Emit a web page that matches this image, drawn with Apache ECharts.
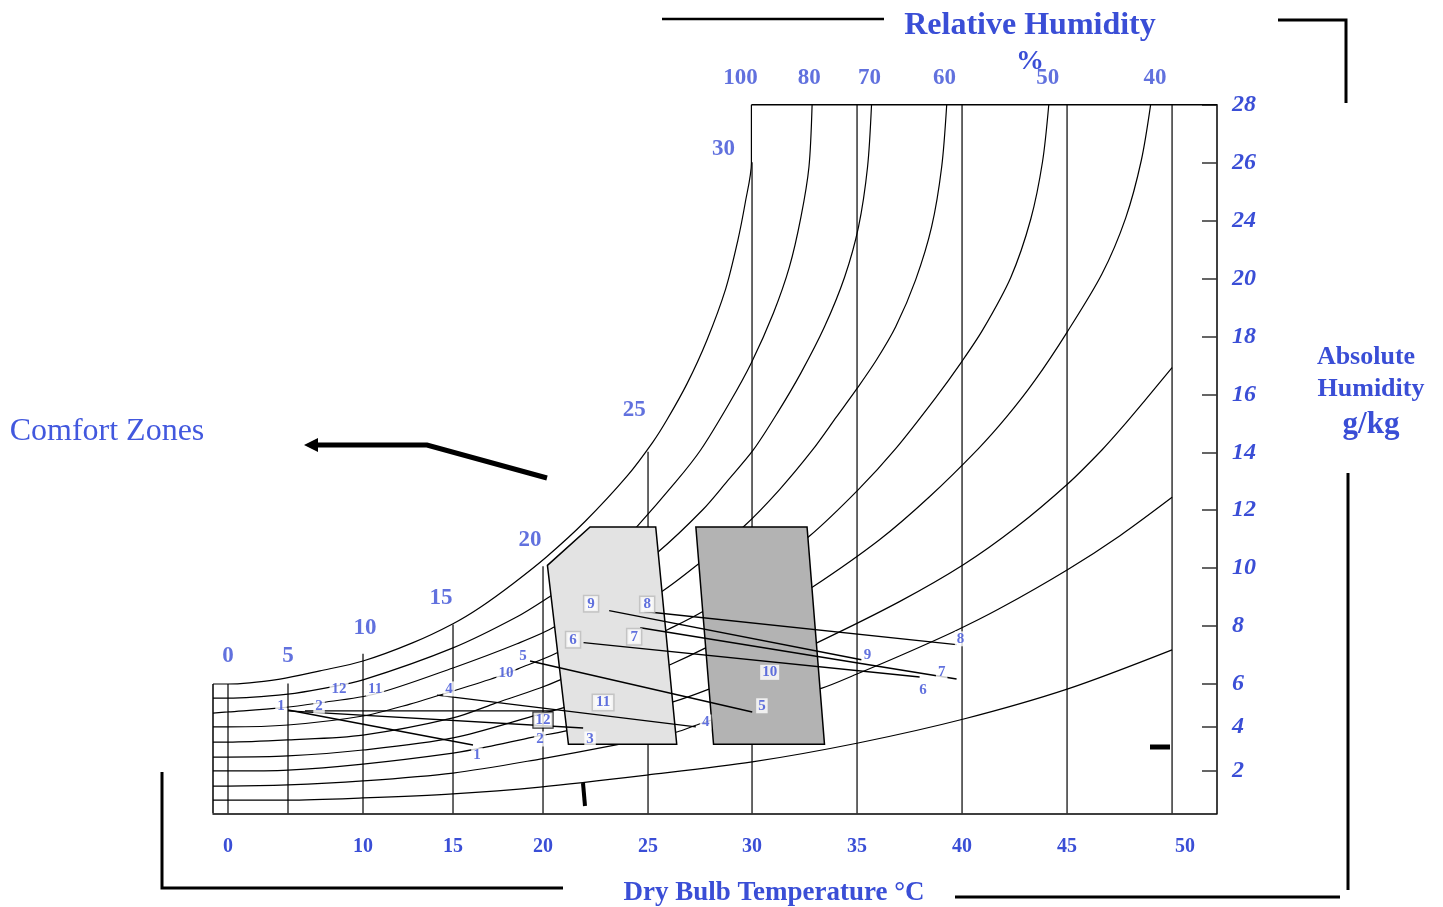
<!DOCTYPE html>
<html><head><meta charset="utf-8">
<script src="https://cdn.jsdelivr.net/npm/echarts@6/dist/echarts.min.js"></script>
<style>html,body{margin:0;padding:0;background:#fff}#c{width:1443px;height:907px}</style>
</head><body><div id="c"></div>
<script>
// ================= DATA =================
// dry bulb temperature grid lines (°C) and bottom axis labels
const tempTicks = [0,5,10,15,20,25,30,35,40,45,50];
const tempLabels = [0,10,15,20,25,30,35,40,45,50];
// height (g/kg) where each dry-bulb line meets the saturation curve
const dryBulbTop = [6.0,6.02,7.04,8.04,10.05,14.02,26.0,28,28,28,28];
// absolute humidity axis labels (g/kg)
const humidityTicks = [2,4,6,8,10,12,14,16,18,20,24,26,28];

// relative humidity curves, [°C, g/kg]
const rh100 = [[-1.25,6.0],[0,6.0],[4.33,6.17],[7.13,6.45],[10,6.79],[12.78,7.42],[15,8.07],[16.5,8.63],[18.33,9.45],[20.19,10.39],[22.0,11.60],[24.01,13.18],[25.24,14.36],[25.91,15.12],[26.87,16.36],[27.82,17.85],[28.73,19.64],[29.30,22.53],[29.68,24.64],[29.97,25.98],[29.97,28.0]];
const rh80 = [[-1.25,5.34],[0,5.34],[5.0,5.53],[7.47,5.81],[10,6.14],[15,7.24],[18.56,8.31],[20.33,9.01],[21.91,9.77],[23.67,10.84],[24.43,11.39],[26.34,12.98],[27.53,14.08],[28.92,15.71],[29.97,17.09],[31.02,18.81],[31.78,20.81],[32.33,24.13],[32.71,25.84],[32.86,28.0]];
const rh70 = [[-1.25,4.64],[0,4.69],[4.42,4.88],[7.07,5.11],[10.67,5.53],[15,6.55],[18.56,7.38],[20.57,7.97],[22.96,9.18],[25.44,10.52],[27.63,12.01],[28.82,13.01],[30.06,14.08],[31.21,15.36],[32.33,16.74],[33.45,18.33],[34.41,20.12],[35.07,23.57],[35.50,25.84],[35.69,28.0]];
const rh60 = [[-1.25,3.99],[0,3.99],[5,4.08],[10,4.50],[12.61,5.06],[15,5.67],[17.44,6.24],[18.61,6.52],[20.67,7.07],[23.20,8.14],[25.67,9.18],[27.39,10.11],[29.59,11.42],[31.30,12.70],[32.88,14.08],[34.02,15.22],[35.02,16.22],[35.93,17.19],[36.84,18.33],[37.79,19.96],[38.55,23.57],[39.03,25.84],[39.27,28.0]];
const rh50 = [[-1.25,3.30],[0,3.30],[5,3.40],[10,3.62],[15,4.41],[17.22,5.06],[19.83,5.81],[20.81,6.14],[23.43,7.0],[25.96,7.87],[27.63,8.49],[30.35,9.77],[32.71,11.08],[35.05,12.70],[36.83,14.12],[38.74,15.88],[39.98,17.12],[40.99,18.23],[42.32,20.09],[43.27,24.05],[43.83,26.01],[44.13,28.0]];
const rh40 = [[-1.25,2.62],[0,2.62],[5,2.67],[10,2.94],[15,3.49],[19.83,4.59],[20.95,4.88],[23.67,5.91],[26.06,6.66],[27.77,7.24],[30.35,8.21],[32.92,9.35],[36.07,10.97],[38.45,12.46],[40.77,14.12],[42.12,15.22],[43.46,16.47],[44.99,18.13],[46.66,20.32],[47.79,24.09],[48.54,26.08],[48.98,28.0]];
const rh30 = [[-1.25,1.99],[0,1.99],[5,2.03],[10,2.30],[15,2.80],[16.89,3.08],[19.44,3.53],[21.10,3.81],[23.67,4.55],[26.20,5.16],[27.96,5.77],[30.54,6.59],[33.11,7.42],[37.02,8.83],[40.08,10.11],[42.56,11.39],[45.04,12.91],[46.66,14.08],[47.60,14.84],[48.73,15.81],[50,16.92]];
const rh20 = [[-1.25,1.28],[0,1.28],[5,1.33],[10,1.52],[15,1.89],[19.83,2.53],[23.48,3.17],[26.39,3.76],[27.34,4.08],[30.35,5.02],[33.33,5.81],[35.05,6.36],[37.02,6.96],[39.65,7.81],[41.79,8.59],[45.04,9.94],[47.52,11.11],[50,12.44]];
const rh10 = [[-1.25,0.62],[0,0.62],[5,0.62],[10,0.72],[15,0.91],[19.83,1.23],[25.0,1.80],[30.01,2.40],[35.05,3.26],[40.08,4.36],[45.04,5.77],[50,7.17]];
const rhCurves = [rh100,rh80,rh70,rh60,rh50,rh40,rh30,rh20,rh10];

// RH labels at the top: [°C, text]
const rhTopLabels = [[29.44,'100'],[32.73,'80'],[35.59,'70'],[39.17,'60'],[44.08,'50'],[49.19,'40']];
// saturation temperature labels: [°C, g/kg, text]
const satLabels = [[0,6.97,'0'],[5,6.97,'5'],[10.11,7.93,'10'],[14.33,8.97,'15'],[19.28,10.97,'20'],[24.34,15.46,'25'],[28.63,26.46,'30']];

// comfort zones (polygons), [°C, g/kg]
const zoneWinter = [[20.21,10.08],[22.24,11.41],[25.37,11.41],[26.38,3.2],[21.21,3.2]];
const zoneSummer = [[27.30,11.41],[32.62,11.41],[33.45,3.2],[28.15,3.2]];

// monthly climate lines: [month, T1, H1, T2, H2]
const monthLines = [
  [1, 5.0,4.78, 16.11,3.17],
  [2, 6.13,4.74, 20.48,4.74],
  [3, 5.0,4.74, 21.91,3.94],
  [4, 14.11,5.48, 27.30,3.99],
  [5, 19.28,6.79, 30.01,4.69],
  [6, 21.93,7.42, 37.98,6.24],
  [7, 24.63,7.93, 39.74,6.17],
  [8, 24.82,8.49, 39.74,7.35],
  [9, 23.15,8.52, 35.21,6.83]
];
// month labels: [°C, g/kg, text]
const monthLabels = [
  [4.42,4.97,'1'],[7.07,4.97,'2'],[8.4,5.77,'12'],[10.67,5.77,'11'],[14.78,5.77,'4'],
  [17.94,6.38,'10'],[18.89,6.97,'5'],[16.33,2.71,'1'],[19.83,3.44,'2'],
  [20.0,4.31,'12'],[22.24,3.44,'3'],[27.77,4.22,'4'],[22.86,5.13,'11'],
  [22.29,8.76,'9'],[24.96,8.73,'8'],[21.43,7.52,'6'],[24.34,7.62,'7'],
  [30.84,6.40,'10'],[30.47,4.98,'5'],
  [35.5,6.98,'9'],[39.93,7.55,'8'],[39.03,6.40,'7'],[38.14,5.69,'6']
];
// frame style of each month label (p = plain, g = grey box, k = black box)
const monthLabelFrame = ['p','p','p','p','p','p','p','p','p','k','p','p','g','g','g','g','g','p','p','p','p','p','p'];

// ================= SCALE (printed chart's non-uniform grid) =================
const SX_T = [0,5,10,15,20,25,30,35,40,45,50];
const SX_U = [0,60,135,225,315,420,524,629,734,839,944];
const SY_H = [0,2,4,6,8,10,12,14,16,18,20,24,26,28];
const SY_V = [0,42.6,86.6,129.3,187.6,245.6,303.3,361,419,477,534.6,592.6,651,708.6];
function interp(v, xs, ys){
  const n = xs.length; let i;
  if (v <= xs[0]) i = 0; else if (v >= xs[n-1]) i = n-2;
  else { i = 0; while (!(v >= xs[i] && v <= xs[i+1])) i++; }
  return ys[i] + (v - xs[i]) * (ys[i+1] - ys[i]) / (xs[i+1] - xs[i]);
}
const tx = T => interp(T, SX_T, SX_U);
const hy = H => interp(H, SY_H, SY_V);
const pt = p => [tx(p[0]), hy(p[1])];
const T_MIN = -1.25, T_MAX = 52.14;

const BLUE = '#3a4ed6';
const SERIF = '"Liberation Serif","Times New Roman",serif';

const chart = echarts.init(document.getElementById('c'), null, {renderer:'canvas'});

const series = [];
// dry bulb verticals
tempTicks.forEach((T,i) => {
  series.push({type:'line', silent:true, symbol:'none', z:1,
    data:[pt([T,0]), pt([T,dryBulbTop[i]])],
    lineStyle:{color:'#000', width:1.2}});
});
// frame: left edge (below saturation start) and top edge (right of 30 °C)
series.push({type:'line', silent:true, symbol:'none', z:1, data:[pt([T_MIN,0]), pt([T_MIN,rh100[0][1]])], lineStyle:{color:'#000', width:1.5}});
series.push({type:'line', silent:true, symbol:'none', z:1, data:[pt([rh100[rh100.length-1][0],28]), pt([T_MAX,28])], lineStyle:{color:'#000', width:1.5}});
// RH curves
rhCurves.forEach(c => {
  series.push({type:'line', silent:true, symbol:'none', z:2, smooth:0.3,
    data:c.map(pt), lineStyle:{color:'#000', width:1.2}});
});
// comfort zones
[[zoneWinter,'#e3e3e3'],[zoneSummer,'#b3b3b3']].forEach(([poly,fill]) => {
  series.push({type:'custom', silent:true, z:3, coordinateSystem:'cartesian2d',
    data:[pt(poly[0])],
    renderItem:(params, api) => ({type:'polygon',
      shape:{points: poly.map(p => api.coord(pt(p)))},
      style:{fill:fill, stroke:'#000', lineWidth:1.5}})
  });
});
// month lines
monthLines.forEach(m => {
  series.push({type:'line', silent:true, symbol:'none', z:4,
    data:[pt([m[1],m[2]]), pt([m[3],m[4]])], lineStyle:{color:'#000', width:1.4}});
});
// month labels
const frameStyle = {
  p:{backgroundColor:'#fff', padding:[0,2]},
  g:{backgroundColor:'#fff', borderColor:'#bbbbbb', borderWidth:1.5, padding:[0,3]},
  k:{backgroundColor:'#fff', borderColor:'#000', borderWidth:1.2, padding:[0,2]}
};
series.push({type:'scatter', silent:true, z:6, symbolSize:0, clip:false,
  data: monthLabels.map((l,i) => ({value:pt([l[0],l[1]]),
    label:Object.assign({show:true, position:'inside', formatter:l[2], color:BLUE,
      fontFamily:SERIF, fontWeight:'bold', fontSize:15}, frameStyle[monthLabelFrame[i]])}))
});
// saturation labels
series.push({type:'scatter', silent:true, z:6, symbolSize:0, clip:false,
  data: satLabels.map(l => ({value:pt([l[0],l[1]]),
    label:{show:true, position:'inside', formatter:l[2], color:BLUE, fontFamily:SERIF, fontWeight:'bold', fontSize:23}}))
});
// RH top labels
series.push({type:'scatter', silent:true, z:6, symbolSize:0, clip:false,
  data: rhTopLabels.map(l => ({value:pt([l[0],28]),
    label:{show:true, position:'inside', offset:[0,-27], formatter:l[1], color:BLUE, fontFamily:SERIF, fontWeight:'bold', fontSize:23}}))
});

const xLabelVals = tempLabels.map(tx);
const yLabelVals = humidityTicks.map(hy);
function nearestLabel(v, vals, labels){
  let best = 0; vals.forEach((c,i)=>{ if (Math.abs(c-v) < Math.abs(vals[best]-v)) best = i; });
  return String(labels[best]);
}

const txt = (text, x, y, font, color) => ({type:'text', silent:true, z:10,
  style:{text, x, y, align:'center', verticalAlign:'middle', font, fill: color || BLUE}});
const lineG = (pts, w) => ({type:'polyline', silent:true, z:10, shape:{points:pts}, style:{stroke:'#000', lineWidth:w, fill:null}});

chart.setOption({
  animation:false,
  backgroundColor:'#fff',
  grid:{left:213, top:104.7, width:1004, height:708.6},
  xAxis:{type:'value', min:tx(T_MIN), max:tx(T_MAX),
    axisLine:{show:true, onZero:false, lineStyle:{color:'#000', width:1.5}},
    axisTick:{show:false}, splitLine:{show:false},
    axisLabel:{customValues:xLabelVals, margin:24, color:BLUE, fontFamily:SERIF, fontWeight:'bold', fontSize:20,
      formatter:v => { const s = nearestLabel(v, xLabelVals, tempLabels); return s === '50' ? '{o|50}' : s; },
      rich:{o:{padding:[0,0,0,26], color:BLUE, fontFamily:SERIF, fontWeight:'bold', fontSize:20}}}
  },
  yAxis:{type:'value', position:'right', min:0, max:hy(28),
    axisLine:{show:true, onZero:false, lineStyle:{color:'#000', width:1.5}},
    axisTick:{show:true, inside:true, length:15, customValues:yLabelVals, lineStyle:{color:'#333', width:1.5}},
    splitLine:{show:false},
    axisLabel:{customValues:yLabelVals, margin:15, color:BLUE, fontFamily:SERIF, fontWeight:'bold', fontStyle:'italic', fontSize:24,
      formatter:v => nearestLabel(v, yLabelVals, humidityTicks)}
  },
  series,
  graphic:[
    txt('Relative Humidity', 1030, 26, 'bold 32px ' + SERIF),
    txt('%', 1030, 62, 'bold 28px ' + SERIF),
    txt('Absolute', 1366, 357, 'bold 26px ' + SERIF),
    txt('Humidity', 1371, 389, 'bold 26px ' + SERIF),
    txt('g/kg', 1371, 425, 'bold 31px ' + SERIF),
    txt('Dry Bulb Temperature °C', 774, 893, 'bold 27px ' + SERIF),
    txt('Comfort Zones', 107, 432, '32px ' + SERIF, '#4258de'),
    lineG([[662,19],[884,19]], 2.5),
    lineG([[1278,20],[1346,20],[1346,103]], 3),
    lineG([[1348,473],[1348,890]], 3),
    lineG([[162,772],[162,888],[563,888]], 3),
    lineG([[955,897],[1340,897]], 3),
    lineG([[547,478],[427,445],[314,445]], 5),
    {type:'polygon', silent:true, z:10, shape:{points:[[304,445],[318,438],[318,452]]}, style:{fill:'#000'}},
    lineG([[1150,747],[1170,747]], 5),
    lineG([[583,783],[585,806]], 4)
  ]
});
</script></body></html>
